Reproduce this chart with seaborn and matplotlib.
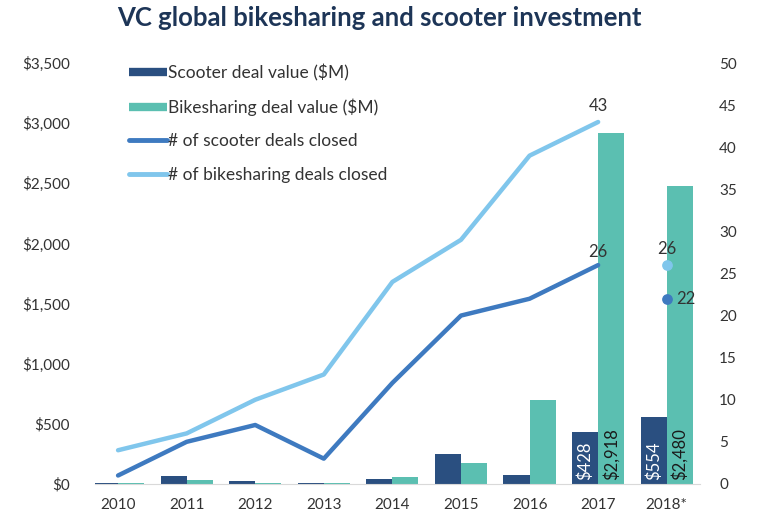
import matplotlib
matplotlib.use('Agg')
import matplotlib.pyplot as plt
from matplotlib.lines import Line2D
import pandas as pd
import seaborn as sns

# data
years = ['2010', '2011', '2012', '2013', '2014', '2015', '2016', '2017', '2018*']
scooter_value = [5, 65, 25, 10, 45, 250, 70, 428, 554]
bike_value = [5, 30, 8, 8, 55, 175, 700, 2918, 2480]
scooter_deals = [1, 5, 7, 3, 12, 20, 22, 26]      # 2010-2017
bike_deals = [4, 6, 10, 13, 24, 29, 39, 43]       # 2010-2017
scooter_deals_2018 = 22
bike_deals_2018 = 26

c_scoot_bar = '#2a4f80'
c_bike_bar = '#5bbfb1'
c_scoot_line = '#3e7ac0'
c_bike_line = '#80c6ec'
txt = '#333333'

sns.set_style('white')
plt.rcParams['font.family'] = ['Lato', 'DejaVu Sans']

df = pd.DataFrame({
    'year': years * 2,
    'value': scooter_value + bike_value,
    'kind': ['Scooter deal value ($M)'] * len(years) + ['Bikesharing deal value ($M)'] * len(years),
})

fig = plt.figure(figsize=(7.58, 5.17), dpi=100)
ax = fig.add_axes([0.125, 0.064, 0.798, 0.814])

sns.barplot(data=df, x='year', y='value', hue='kind', width=0.76, linewidth=0,
            palette=[c_scoot_bar, c_bike_bar], saturation=1, ax=ax, legend=False)
ax.set_ylim(0, 3500)
ax.set_xlim(-0.34, 8.48)
ax.set_yticks(range(0, 3501, 500))
ax.set_yticklabels(['$0'] + ['${:,}'.format(v) for v in range(500, 3501, 500)])
ax.set_xlabel('')
ax.set_ylabel('')
for s in ['top', 'right', 'left']:
    ax.spines[s].set_visible(False)
ax.spines['bottom'].set_color('#d9d9d9')
ax.tick_params(axis='both', length=0, labelsize=11, colors=txt, pad=10)
ax.tick_params(axis='y', pad=18)

# labels inside the 2017 and 2018 bars
for i in [7, 8]:
    ax.text(i - 0.19, 30, '${:,}'.format(scooter_value[i]), rotation=90, color='white',
            ha='center', va='bottom', fontsize=12)
    ax.text(i + 0.19, 30, '${:,}'.format(bike_value[i]), rotation=90, color='#1a1a1a',
            ha='center', va='bottom', fontsize=12)

ax2 = ax.twinx()
pos = list(range(len(scooter_deals)))
sns.lineplot(x=pos, y=bike_deals, color=c_bike_line, linewidth=3.2, ax=ax2)
sns.lineplot(x=pos, y=scooter_deals, color=c_scoot_line, linewidth=3.2, ax=ax2)
ax2.scatter([8], [bike_deals_2018], color=c_bike_line, s=45, zorder=5)
ax2.scatter([8], [scooter_deals_2018], color=c_scoot_line, s=45, zorder=5)
ax2.set_ylim(0, 50)
ax2.set_yticks(range(0, 51, 5))
for s in ['top', 'right', 'left', 'bottom']:
    ax2.spines[s].set_visible(False)
ax2.tick_params(axis='y', length=0, labelsize=11, colors=txt, pad=14)

ax2.annotate(str(bike_deals[-1]), (7, bike_deals[-1]), xytext=(0, 6), textcoords='offset points',
             ha='center', va='bottom', fontsize=12, color=txt)
ax2.annotate(str(scooter_deals[-1]), (7, scooter_deals[-1]), xytext=(0, 4), textcoords='offset points',
             ha='center', va='bottom', fontsize=12, color=txt)
ax2.annotate(str(bike_deals_2018), (8, bike_deals_2018), xytext=(0, 6), textcoords='offset points',
             ha='center', va='bottom', fontsize=12, color=txt)
ax2.annotate(str(scooter_deals_2018), (8, scooter_deals_2018), xytext=(7, 0), textcoords='offset points',
             ha='left', va='center', fontsize=12, color=txt)

handles = [
    Line2D([], [], color=c_scoot_bar, linewidth=6, solid_capstyle='butt'),
    Line2D([], [], color=c_bike_bar, linewidth=6, solid_capstyle='butt'),
    Line2D([], [], color=c_scoot_line, linewidth=3.5, solid_capstyle='round'),
    Line2D([], [], color=c_bike_line, linewidth=3.5, solid_capstyle='round'),
]
labels = ['Scooter deal value ($M)', 'Bikesharing deal value ($M)',
          '# of scooter deals closed', '# of bikesharing deals closed']
leg = ax2.legend(handles, labels, loc='upper left', bbox_to_anchor=(0.03, 1.035), frameon=False,
                 fontsize=12.5, labelspacing=1.0, handlelength=2.2, handletextpad=0.1)
for t in leg.get_texts():
    t.set_color(txt)

fig.text(0.5, 0.965, 'VC global bikesharing and scooter investment', ha='center', va='center',
         fontsize=18.5, fontweight='bold', color='#1d3557')

fig.savefig('out.png', dpi=100)
